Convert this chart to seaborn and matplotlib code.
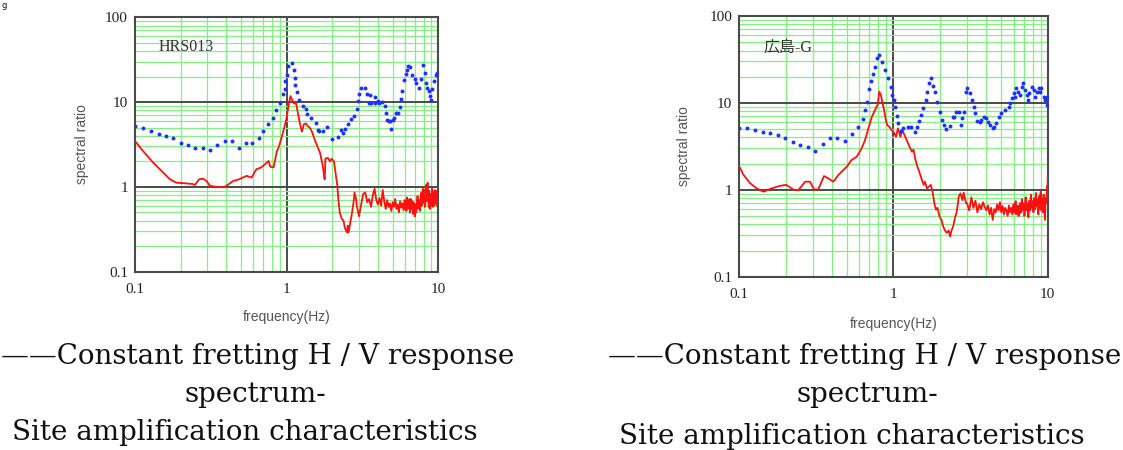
import numpy as np
import pandas as pd
import matplotlib
matplotlib.use("Agg")
import matplotlib.pyplot as plt
from matplotlib.ticker import LogLocator, NullFormatter, FixedLocator, FixedFormatter
import seaborn as sns

# ---------------- data ----------------
hrs_blue_f = [0.10, 0.113, 0.128, 0.143, 0.160, 0.179, 0.200, 0.222, 0.250, 0.279, 0.312, 0.349,
              0.390, 0.436, 0.485, 0.542, 0.594, 0.653, 0.70, 0.75,
              0.81, 0.85, 0.90, 0.94, 0.97, 0.98, 1.0, 1.02, 1.08, 1.11, 1.13, 1.14, 1.17, 1.21,
              1.28, 1.34, 1.36, 1.45, 1.56, 1.60, 1.64, 1.73, 1.84, 1.99, 2.17, 2.29, 2.37, 2.44,
              2.54, 2.65, 2.80, 2.90, 2.95, 2.99, 3.10, 3.30, 3.40, 3.48, 3.55, 3.61, 3.81, 3.85,
              3.99, 4.09, 4.26, 4.42, 4.53, 4.58, 4.72, 4.82, 4.89, 5.01, 5.14, 5.28, 5.41, 5.61,
              5.64, 5.78, 5.90, 6.08, 6.21, 6.34, 6.53, 6.73, 6.98, 7.16, 7.45, 7.73, 7.93, 8.13,
              8.25, 8.41, 8.67, 8.85, 8.95, 9.13, 9.31, 9.60, 9.85]
hrs_blue_v = [5.2, 4.9, 4.6, 4.2, 4.0, 3.8, 3.3, 3.1, 2.9, 2.9, 2.75, 3.15,
              3.45, 3.45, 2.9, 3.3, 3.3, 3.8, 4.6, 5.5,
              6.5, 8.05, 9.8, 12.3, 14.4, 17.7, 21.0, 27.0, 29.0, 23.8, 19.3, 16.1, 13.1, 10.7,
              9.1, 8.4, 7.3, 6.55, 5.6, 4.65, 4.55, 4.55, 5.1, 3.7, 3.9, 4.65, 4.3, 4.85,
              5.45, 6.25, 6.85, 8.35, 10.3, 12.5, 14.5, 14.5, 12.3, 9.8, 12.1, 9.8, 11.5, 9.8,
              10.3, 9.8, 10.0, 9.1, 7.35, 6.1, 5.97, 5.97, 4.85, 6.1, 6.55, 7.5, 7.5, 8.8,
              10.9, 13.5, 18.2, 21.7, 23.8, 27.0, 26.0, 21.0, 18.5, 16.9, 14.8, 18.8, 27.7, 22.1,
              16.9, 14.8, 13.5, 11.8, 10.6, 14.1, 17.7, 21.0, 22.0]

# frequency grid of the dense high-frequency part of the H/V spectra (6-10 Hz)
hf_grid = [6.00, 6.05, 6.10, 6.15, 6.20, 6.25, 6.30, 6.35, 6.40, 6.45,
           6.50, 6.55, 6.60, 6.65, 6.70, 6.75, 6.80, 6.85, 6.90, 6.95,
           7.00, 7.05, 7.10, 7.15, 7.20, 7.25, 7.30, 7.35, 7.40, 7.45,
           7.50, 7.55, 7.60, 7.65, 7.70, 7.75, 7.80, 7.85, 7.90, 7.95,
           8.00, 8.05, 8.10, 8.15, 8.20, 8.25, 8.30, 8.35, 8.40, 8.45,
           8.50, 8.55, 8.60, 8.65, 8.70, 8.75, 8.80, 8.85, 8.90, 8.95,
           9.00, 9.05, 9.10, 9.15, 9.20, 9.25, 9.30, 9.35, 9.40, 9.45,
           9.50, 9.55, 9.60, 9.65, 9.70, 9.75, 9.80, 9.85, 9.90, 9.95, 10.00]
# frequency grid of the 3-6 Hz part
mf_grid = [3.0, 3.1, 3.2, 3.3, 3.4, 3.5, 3.6, 3.7, 3.8, 3.9,
           4.0, 4.1, 4.2, 4.3, 4.4, 4.5, 4.6, 4.7, 4.8, 4.9,
           5.0, 5.1, 5.2, 5.3, 5.4, 5.5, 5.6, 5.7, 5.8, 5.9]

hrs_red_f = [0.100, 0.113, 0.132, 0.154, 0.170, 0.188, 0.219, 0.242, 0.248, 0.265, 0.282, 0.297,
             0.312, 0.345, 0.385, 0.40, 0.443, 0.486, 0.544, 0.588, 0.63, 0.68, 0.72, 0.76,
             0.78, 0.82, 0.86, 0.89, 0.94, 0.99, 1.03, 1.06, 1.09, 1.12, 1.15, 1.18, 1.22, 1.26,
             1.30, 1.34, 1.38, 1.42, 1.46, 1.50, 1.56, 1.62, 1.66, 1.73, 1.78, 1.79, 1.80, 1.87,
             1.93, 1.98, 2.05, 2.10, 2.16, 2.19, 2.24, 2.31, 2.37, 2.42, 2.50, 2.53, 2.56, 2.63,
             2.70, 2.78, 2.80, 2.87, 2.9]
hrs_red_v = [3.47, 2.65, 1.93, 1.47, 1.23, 1.12, 1.10, 1.08, 1.05, 1.23, 1.25, 1.17,
             1.03, 1.0, 0.99, 1.03, 1.17, 1.23, 1.35, 1.29, 1.61, 1.70, 1.85, 2.02,
             1.73, 1.70, 2.6, 3.0, 4.2, 6.0, 9.0, 11.8, 10.5, 9.6, 10.0, 7.8, 5.7, 4.5,
             5.5, 5.6, 5.2, 5.0, 4.6, 4.0, 3.3, 2.8, 2.53, 1.77, 1.23, 1.47, 2.15, 2.2,
             2.0, 2.15, 2.0, 1.47, 1.03, 0.72, 0.50, 0.42, 0.40, 0.33, 0.29, 0.35, 0.29, 0.38,
             0.50, 0.72, 0.86, 0.72, 0.60]
hrs_red_mid = [0.45, 0.62, 0.83, 0.86, 0.66, 0.72, 0.58, 0.80, 0.95, 0.70,
               0.62, 0.74, 0.60, 0.92, 0.68, 0.55, 0.70, 0.58, 0.64, 0.52,
               0.66, 0.58, 0.72, 0.55, 0.62, 0.50, 0.68, 0.57, 0.64, 0.53]
hrs_red_high = [0.70, 0.55, 0.62, 0.52, 0.75, 0.58, 0.55, 0.68, 0.60, 0.72,
                0.50, 0.64, 0.72, 0.55, 0.60, 0.68, 0.48, 0.58, 0.65, 0.52,
                0.45, 0.60, 0.62, 0.50, 0.55, 0.70, 0.78, 0.56, 0.58, 0.66,
                0.70, 0.55, 0.52, 0.75, 0.85, 0.60, 0.62, 0.80, 0.95, 0.65,
                0.70, 0.92, 0.88, 0.58, 0.60, 0.85, 1.05, 0.68, 0.72, 0.95,
                1.12, 0.75, 0.65, 0.58, 0.90, 0.70, 0.55, 0.78, 0.82, 0.60,
                0.62, 0.85, 0.95, 0.66, 0.58, 0.72, 0.88, 0.60, 0.66, 0.84,
                0.92, 0.64, 0.70, 0.90, 0.85, 0.60, 0.62, 0.82, 0.80, 0.65, 0.75]

hiro_blue_f = [0.100, 0.112, 0.127, 0.142, 0.159, 0.178, 0.199, 0.223, 0.249, 0.278, 0.311, 0.348,
               0.389, 0.433, 0.485, 0.536, 0.594, 0.632, 0.654, 0.678, 0.695, 0.717, 0.733, 0.761,
               0.780, 0.812, 0.840, 0.883, 0.928, 0.960, 0.985, 1.01, 1.02, 1.05, 1.07, 1.12,
               1.15, 1.25, 1.30, 1.38, 1.42, 1.46, 1.50, 1.56, 1.62, 1.65, 1.71, 1.75, 1.81, 1.87,
               1.93, 1.99, 2.06, 2.13, 2.20, 2.31, 2.43, 2.48, 2.56, 2.68, 2.76, 2.80, 2.85, 2.96,
               3.00, 3.12, 3.25, 3.33, 3.40, 3.50, 3.63, 3.72, 3.86, 3.98, 4.10, 4.20, 4.40, 4.50,
               4.65, 4.85, 5.00, 5.30, 5.60, 5.70, 5.85, 6.00, 6.10, 6.25, 6.40, 6.60, 6.80, 6.90,
               7.10, 7.30, 7.50, 7.60, 7.90, 8.10, 8.30, 8.50, 8.80, 8.90, 9.10, 9.40, 9.60, 9.90, 9.95]
hiro_blue_v = [5.1, 5.1, 4.9, 4.67, 4.47, 4.27, 3.9, 3.58, 3.28, 3.08, 2.82, 3.37,
               3.91, 3.91, 3.67, 4.39, 5.33, 6.53, 8.28, 10.3, 14.3, 18.0, 21.5, 26.0,
               32.6, 35.6, 29.8, 23.9, 19.2, 15.1, 12.3, 10.8, 9.04, 7.06, 5.82, 4.8,
               5.1, 5.24, 5.24, 4.67, 5.33, 6.25, 7.27, 8.66, 10.8, 13.5, 16.8, 19.2, 15.6, 13.5,
               10.3, 7.93, 6.35, 5.57, 5.0, 5.42, 6.82, 6.82, 7.93, 7.93, 5.57, 6.64, 7.93, 13.5,
               14.7, 13.1, 10.8, 9.04, 7.6, 6.25, 6.1, 6.35, 6.95, 6.7, 6.1, 5.57, 5.1, 5.33,
               5.93, 6.95, 7.6, 8.3, 9.04, 9.9, 11.3, 12.9, 11.8, 14.7, 13.5, 12.3, 15.3, 16.8,
               14.1, 12.3, 10.8, 12.9, 15.3, 14.1, 11.8, 13.5, 14.7, 13.5, 14.7, 11.8, 10.8, 9.4, 11.8]

hiro_red_f = [0.100, 0.107, 0.118, 0.130, 0.144, 0.163, 0.184, 0.202, 0.226, 0.242, 0.268, 0.288,
              0.306, 0.326, 0.355, 0.379, 0.408, 0.44, 0.474, 0.50, 0.535, 0.578, 0.623, 0.655,
              0.689, 0.726, 0.76, 0.79, 0.81, 0.83, 0.85, 0.87, 0.89, 0.91, 0.94, 0.97,
              1.00, 1.04, 1.07, 1.11, 1.14, 1.18, 1.22, 1.27, 1.32, 1.35, 1.39, 1.43, 1.47, 1.53,
              1.57, 1.60, 1.65, 1.69, 1.75, 1.80, 1.85, 1.89, 1.93, 1.99, 2.05, 2.10, 2.16, 2.21,
              2.28, 2.33, 2.38, 2.44, 2.50, 2.56, 2.62, 2.65, 2.72, 2.80, 2.85, 2.96]
hiro_red_v = [1.88, 1.48, 1.19, 1.04, 0.95, 1.04, 1.11, 1.14, 1.0, 0.99, 1.24, 1.24,
              1.01, 1.01, 1.44, 1.35, 1.24, 1.48, 1.69, 1.85, 2.2, 2.4, 3.0, 3.74,
              5.1, 6.95, 8.3, 9.5, 13.5, 12.3, 10.0, 8.3, 6.6, 5.57, 5.33, 4.88,
              4.67, 4.08, 5.1, 4.08, 4.9, 4.27, 3.74, 3.13, 2.75, 2.9, 2.2, 1.85, 1.62, 1.3,
              1.14, 1.24, 1.04, 1.08, 1.14, 0.91, 0.67, 0.59, 0.62, 0.49, 0.45, 0.38, 0.34, 0.32,
              0.34, 0.29, 0.34, 0.38, 0.47, 0.54, 0.70, 0.84, 0.91, 0.76, 0.93, 0.70]
hiro_red_mid = [0.70, 0.58, 0.82, 0.62, 0.75, 0.55, 0.68, 0.60, 0.72, 0.64,
                0.58, 0.66, 0.52, 0.62, 0.45, 0.60, 0.55, 0.68, 0.58, 0.72,
                0.55, 0.65, 0.52, 0.62, 0.58, 0.50, 0.66, 0.55, 0.62, 0.52]
hiro_red_high = [0.68, 0.55, 0.56, 0.70, 0.74, 0.52, 0.58, 0.66, 0.64, 0.50,
                 0.50, 0.62, 0.70, 0.54, 0.56, 0.72, 0.78, 0.58, 0.60, 0.70,
                 0.66, 0.50, 0.52, 0.75, 0.82, 0.60, 0.58, 0.68, 0.70, 0.52,
                 0.48, 0.62, 0.75, 0.58, 0.60, 0.80, 0.88, 0.64, 0.62, 0.74,
                 0.72, 0.56, 0.55, 0.70, 0.80, 0.62, 0.60, 0.85, 0.92, 0.66,
                 0.65, 0.76, 0.78, 0.55, 0.52, 0.72, 0.85, 0.66, 0.62, 0.80,
                 0.95, 0.64, 0.58, 0.70, 0.78, 0.60, 0.55, 0.75, 0.88, 0.68,
                 0.62, 0.50, 0.45, 0.66, 0.80, 0.74, 0.70, 0.95, 1.10, 0.85, 1.45]

panel_names = ["HRS013", "広島-G"]
x_ticks = [0.1, 1, 10]
x_tick_labels = ["0.1", "1", "10"]
y_ticks = [0.1, 1, 10, 100]
y_tick_labels = ["0.1", "1", "10", "100"]
caption_lines = ["——Constant fretting H / V response", "spectrum-", "Site amplification characteristics"]

# ---------------- figure ----------------
sns.set_theme(style="white")
plt.rcParams["font.family"] = ["DejaVu Sans"]

fig = plt.figure(figsize=(11.23, 4.5), dpi=100)
axL = fig.add_axes([0.1202, 0.3962, 0.2701, 0.5653])
axR = fig.add_axes([0.6581, 0.3851, 0.2749, 0.5793])

panels = [
    (axL, hrs_blue_f, hrs_blue_v, hrs_red_f + mf_grid + hf_grid,
     hrs_red_v + hrs_red_mid + hrs_red_high, panel_names[0], (0.079, 0.883), (-0.152, -0.15)),
    (axR, hiro_blue_f, hiro_blue_v, hiro_red_f + mf_grid + hf_grid,
     hiro_red_v + hiro_red_mid + hiro_red_high, panel_names[1], (0.078, 0.877), (-0.155, -0.155)),
]

for ax, bf, bv, rf, rv, name, npos, lpos in panels:
    red_df = pd.DataFrame({"f": rf, "v": rv})
    blue_df = pd.DataFrame({"f": bf, "v": bv})
    ax.set_xscale("log")
    ax.set_yscale("log")
    sns.lineplot(data=red_df, x="f", y="v", ax=ax, color="#ff0f0f", lw=1.3,
                 estimator=None, sort=False, zorder=3)
    sns.scatterplot(data=blue_df, x="f", y="v", ax=ax, color="#1f2fff", s=8,
                    linewidth=0, zorder=4)
    ax.set_xlim(0.1, 10)
    ax.set_ylim(0.1, 100)
    ax.xaxis.set_major_locator(FixedLocator(x_ticks))
    ax.xaxis.set_major_formatter(FixedFormatter(x_tick_labels))
    ax.yaxis.set_major_locator(FixedLocator(y_ticks))
    ax.yaxis.set_major_formatter(FixedFormatter(y_tick_labels))
    ax.xaxis.set_minor_locator(LogLocator(base=10, subs=np.arange(2, 10)))
    ax.yaxis.set_minor_locator(LogLocator(base=10, subs=np.arange(2, 10)))
    ax.xaxis.set_minor_formatter(NullFormatter())
    ax.yaxis.set_minor_formatter(NullFormatter())
    ax.set_axisbelow(True)
    ax.grid(which="minor", color="#84f084", lw=0.9)
    ax.grid(which="major", color="#4a4a4a", lw=1.4)
    ax.tick_params(which="both", length=0)
    ax.tick_params(axis="y", pad=5, labelsize=11)
    ax.tick_params(axis="x", pad=8, labelsize=11)
    for lab in ax.get_xticklabels() + ax.get_yticklabels():
        lab.set_fontfamily("Liberation Serif")
        lab.set_color("#222222")
    for sp in ax.spines.values():
        sp.set_color("#4a4a4a")
        sp.set_linewidth(1.5)
    ax.set_xlabel("frequency(Hz)", fontsize=10, color="#555555", family="Liberation Sans")
    ax.set_ylabel("spectral ratio", fontsize=10, color="#555555", family="Liberation Sans")
    ax.xaxis.set_label_coords(0.5, lpos[1])
    ax.yaxis.set_label_coords(lpos[0], 0.5)
    ax.text(npos[0], npos[1], name, transform=ax.transAxes, ha="left", va="center",
            fontsize=11.5, color="#333333",
            family=["Liberation Serif", "Noto Sans CJK JP"])

# captions
cap_specs = [
    [(258, 357), (255, 394), (245, 433)],
    [(865, 357), (867, 395), (852, 437)],
]
for spec in cap_specs:
    for (cx, cy), line in zip(spec, caption_lines):
        fig.text(cx / 1123, 1 - cy / 450, line, ha="center", va="center",
                 fontsize=20, family="DejaVu Serif", color="#111111")

# remnant of a character at the top-left corner (kept small so it fits)
fig.text(2 / 1123, 1 - 1 / 450, "g", ha="left", va="top", fontsize=6, color="#111111")

fig.savefig("out.png", dpi=100)
